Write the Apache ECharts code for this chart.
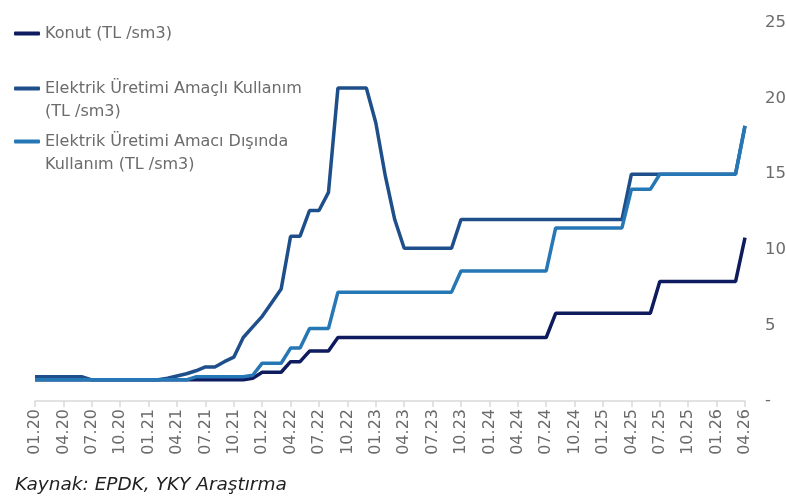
<!DOCTYPE html>
<html>
<head>
<meta charset="utf-8">
<script src="https://cdn.jsdelivr.net/npm/echarts@6/dist/echarts.min.js"></script>
<style>
  html, body {margin:0; padding:0; background:#fff; overflow:hidden;}
  #main {width:786px; height:498px;}
</style>
</head>
<body>
<div id="main"></div>
<script>
// aylar: 01.20 ... 04.26
let months = [];
for (let y = 20; y <= 26; y++) {
  for (let m = 1; m <= 12; m++) {
    if (y === 26 && m > 4) break;
    months.push((m < 10 ? '0' + m : '' + m) + '.' + y);
  }
}

let konut = [
  1.4,1.4,1.4,1.4,1.4,1.4,1.4,1.4,1.4,1.4,1.4,1.4,
  1.4,1.4,1.4,1.4,1.4,1.4,1.4,1.4,1.4,1.4,1.4,1.5,
  1.9,1.9,1.9,2.6,2.6,3.3,3.3,3.3,4.2,4.2,4.2,4.2,
  4.2,4.2,4.2,4.2,4.2,4.2,4.2,4.2,4.2,4.2,4.2,4.2,
  4.2,4.2,4.2,4.2,4.2,4.2,4.2,5.8,5.8,5.8,5.8,5.8,
  5.8,5.8,5.8,5.8,5.8,5.8,7.9,7.9,7.9,7.9,7.9,7.9,
  7.9,7.9,7.9,10.8
];
let elektrikAmacli = [
  1.6,1.6,1.6,1.6,1.6,1.6,1.4,1.4,1.4,1.4,1.4,1.4,
  1.4,1.4,1.5,1.65,1.8,2.0,2.25,2.25,2.6,2.9,4.2,4.9,
  5.6,6.5,7.4,10.9,10.9,12.6,12.6,13.8,20.7,20.7,20.7,20.7,
  18.4,14.9,12.0,10.1,10.1,10.1,10.1,10.1,10.1,12.0,12.0,12.0,
  12.0,12.0,12.0,12.0,12.0,12.0,12.0,12.0,12.0,12.0,12.0,12.0,
  12.0,12.0,12.0,15.0,15.0,15.0,15.0,15.0,15.0,15.0,15.0,15.0,
  15.0,15.0,15.0,18.2
];
let elektrikDisi = [
  1.4,1.4,1.4,1.4,1.4,1.4,1.4,1.4,1.4,1.4,1.4,1.4,
  1.4,1.4,1.4,1.4,1.4,1.6,1.6,1.6,1.6,1.6,1.6,1.7,
  2.5,2.5,2.5,3.5,3.5,4.8,4.8,4.8,7.2,7.2,7.2,7.2,
  7.2,7.2,7.2,7.2,7.2,7.2,7.2,7.2,7.2,8.6,8.6,8.6,
  8.6,8.6,8.6,8.6,8.6,8.6,8.6,11.45,11.45,11.45,11.45,11.45,
  11.45,11.45,11.45,14.0,14.0,14.0,15.0,15.0,15.0,15.0,15.0,15.0,
  15.0,15.0,15.0,18.2
];

let names = [
  'Konut (TL /sm3)',
  'Elektrik Üretimi Amaçlı Kullanım\n(TL /sm3)',
  'Elektrik Üretimi Amacı Dışında\nKullanım (TL /sm3)'
];
let colors = ['#0e1b5e', '#1f4f8a', '#2677b5'];
let fontName = '"DejaVu Sans", sans-serif';

let myChart = echarts.init(document.getElementById('main'));

function makeLegend(name, top, extraLine) {
  return {
    data: [name],
    orient: 'vertical',
    left: 9,
    top: top,
    icon: 'roundRect',
    itemWidth: 26,
    itemHeight: 4,
    selectedMode: false,
    formatter: function (n) { return extraLine ? '\n' + n : n; },
    textStyle: {color: '#6b6b6b', fontSize: 16, fontFamily: fontName, lineHeight: 23}
  };
}

let option = {
  animation: false,
  backgroundColor: '#fff',
  color: colors,
  legend: [
    makeLegend(names[0], 17, false),
    makeLegend(names[1], 49, true),
    makeLegend(names[2], 102, true)
  ],
  grid: {left: 35, right: 41, top: 23, bottom: 97, containLabel: false, outerBoundsMode: 'none'},
  xAxis: {
    type: 'category',
    data: months,
    boundaryGap: false,
    axisLine: {lineStyle: {color: '#d9d9d9', width: 1.5}},
    axisTick: {show: true, interval: 2, length: 6, lineStyle: {color: '#d9d9d9', width: 1.5}},
    axisLabel: {interval: 2, rotate: 90, fontSize: 16, color: '#6b6b6b', margin: 8, fontFamily: fontName}
  },
  yAxis: {
    type: 'value',
    position: 'right',
    min: 0,
    max: 25,
    interval: 5,
    axisLine: {show: false},
    axisTick: {show: false},
    splitLine: {show: false},
    axisLabel: {
      fontSize: 16.5, color: '#6b6b6b', margin: 20, fontFamily: fontName,
      formatter: function (v) { return v === 0 ? '-' : v; }
    }
  },
  series: [
    {name: names[0], type: 'line', data: konut, symbol: 'none', lineStyle: {width: 3.5, color: colors[0]}},
    {name: names[1], type: 'line', data: elektrikAmacli, symbol: 'none', lineStyle: {width: 3.5, color: colors[1]}},
    {name: names[2], type: 'line', data: elektrikDisi, symbol: 'none', lineStyle: {width: 3.5, color: colors[2]}}
  ],
  graphic: [{
    type: 'text',
    left: 15,
    top: 476,
    style: {text: 'Kaynak: EPDK, YKY Araştırma', fill: '#222', font: 'italic 18.5px ' + fontName}
  }]
};

myChart.setOption(option);
window.onresize = myChart.resize;
</script>
</body>
</html>
